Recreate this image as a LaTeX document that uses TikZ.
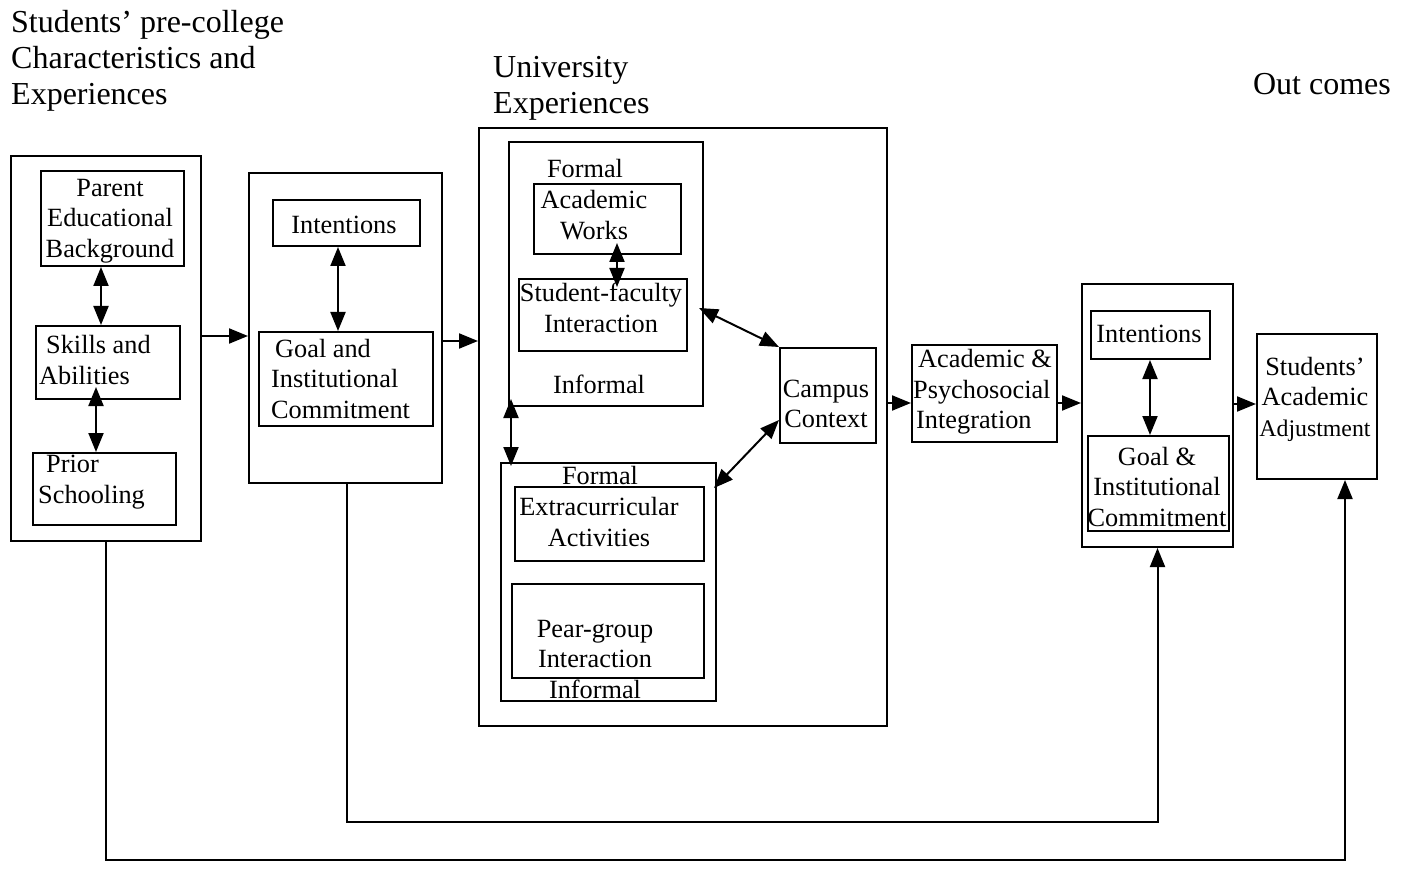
\documentclass[tikz,border=0pt]{standalone}
\usepackage{fontspec}
\setmainfont{Liberation Serif}
\usetikzlibrary{arrows.meta}
\begin{document}
\begin{tikzpicture}[x=1pt,y=-1pt,
  box/.style={draw, line width=2pt, inner sep=0pt, anchor=north west},
  txt/.style={inner sep=0pt, font=\fontsize{26.3}{30.5}\selectfont, align=center},
  ttl/.style={inner sep=0pt, font=\fontsize{32}{36}\selectfont, align=left},
  arr/.style={-{Triangle[length=19pt,width=15pt]}, line width=2pt},
  dbl/.style={{Triangle[length=19pt,width=15pt]}-{Triangle[length=19pt,width=15pt]}, line width=2pt}]
\useasboundingbox (0,0) rectangle (1407,882);
% titles
\node[ttl, anchor=west] (t1) at (11,61) {Students’ pre-college\\Characteristics and\\Experiences};
\node[ttl, anchor=west] (t2) at (493,88) {University\\Experiences};
\node[ttl] (t3) at (1322,84) {Out comes};
% boxes
\node[box, minimum width=190pt, minimum height=385pt] (box1) at (10,155) {};
\node[box, minimum width=143pt, minimum height=95pt] (pe) at (40,170) {};
\node[box, minimum width=144pt, minimum height=73pt] (sk) at (35,325) {};
\node[box, minimum width=143pt, minimum height=72pt] (pr) at (32,452) {};
\node[box, minimum width=193pt, minimum height=310pt] (box2) at (248,172) {};
\node[box, minimum width=147pt, minimum height=46pt] (in1) at (272,199) {};
\node[box, minimum width=174pt, minimum height=94pt] (go1) at (258,331) {};
\node[box, minimum width=408pt, minimum height=598pt] (univ) at (478,127) {};
\node[box, minimum width=194pt, minimum height=264pt] (ub) at (508,141) {};
\node[box, minimum width=147pt, minimum height=70pt] (aw) at (533,183) {};
\node[box, minimum width=168pt, minimum height=72pt] (sf) at (518,278) {};
\node[box, minimum width=215pt, minimum height=238pt] (lb) at (500,462) {};
\node[box, minimum width=189pt, minimum height=74pt] (ex) at (514,486) {};
\node[box, minimum width=192pt, minimum height=94pt] (pg) at (511,583) {};
\node[box, minimum width=96pt, minimum height=95pt] (cc) at (779,347) {};
\node[box, minimum width=145pt, minimum height=97pt] (ap) at (911,344) {};
\node[box, minimum width=151pt, minimum height=263pt] (rb) at (1081,283) {};
\node[box, minimum width=119pt, minimum height=48pt] (in2) at (1090,310) {};
\node[box, minimum width=141pt, minimum height=95pt] (go2) at (1087,435) {};
\node[box, minimum width=120pt, minimum height=145pt] (sa) at (1256,333) {};
% texts
\node[txt] (l1) at (110,221) {Parent\\Educational\\Background};
\node[txt, anchor=west, align=left] (l2) at (39,360) {\hspace{7pt}Skills and\\Abilities};
\node[txt, anchor=west, align=left] (l3) at (38,482) {\hspace{8pt}Prior\\Schooling};
\node[txt] (l4) at (344,225) {Intentions};
\node[txt, anchor=west, align=left] (l5) at (271,379) {\hspace{4pt}Goal and\\Institutional\\Commitment};
\node[txt] (l6) at (585,169) {Formal};
\node[txt] (l7) at (594,215) {Academic\\Works};
\node[txt] (l8) at (601,308) {Student-faculty\\Interaction};
\node[txt] (l9) at (599,384) {Informal};
\node[txt] (l10) at (600,476) {Formal};
\node[txt] (l11) at (599,522) {Extracurricular\\Activities};
\node[txt] (l12) at (595,644) {Pear-group\\Interaction};
\node[txt] (l13) at (595,689) {Informal};
\node[txt] (l14) at (826,404) {Campus\\Context};
\node[txt, anchor=west, align=left] (l15) at (913,392) {\hspace{5pt}Academic \&\\Psychosocial\\\hspace{3pt}Integration};
\node[txt] (l16) at (1149,334) {Intentions};
\node[txt] (l17) at (1157,487) {Goal \&\\Institutional\\Commitment};
\node[txt] (l18) at (1315,399) {Students’\\Academic\\{\fontsize{23.8}{28}\selectfont Adjustment}};
% helper coordinates
\coordinate (h1) at (0,336);
\coordinate (h2) at (0,341);
\coordinate (h3) at (0,403);
\coordinate (h4) at (0,404);
\coordinate (v1) at (101,0);
\coordinate (v2) at (96,0);
\coordinate (v3) at (338,0);
\coordinate (v4) at (617,0);
\coordinate (v5) at (511,0);
\coordinate (v6) at (1150,0);
\coordinate (c1) at (0,308);
\coordinate (c2) at (0,420);
\coordinate (c3) at (0,488);
\coordinate (f1) at (347,822);
\coordinate (f2) at (1345,860);
% horizontal arrows
\draw[arr] (box1.east |- h1) -- (box2.west |- h1);
\draw[arr] (box2.east |- h2) -- (univ.west |- h2);
\draw[arr] (univ.east |- h3) -- (ap.west |- h3);
\draw[arr] (ap.east |- h3) -- (rb.west |- h3);
\draw[arr] (rb.east |- h4) -- (sa.west |- h4);
% double arrows
\draw[dbl] (pe.south -| v1) -- (sk.north -| v1);
\draw[dbl] ([yshift=13pt]sk.south -| v2) -- (pr.north -| v2);
\draw[dbl] (in1.south -| v3) -- (go1.north -| v3);
\draw[dbl] ([yshift=12pt]aw.south -| v4) -- ([yshift=-9pt]sf.north -| v4);
\draw[dbl] ([yshift=8pt]ub.south -| v5) -- ([yshift=-4pt]lb.north -| v5);
\draw[dbl] (in2.south -| v6) -- (go2.north -| v6);
\draw[dbl] (cc.north west) -- ([xshift=-5pt]ub.east |- c1);
\draw[dbl] (cc.west |- c2) -- ([xshift=-3pt]lb.east |- c3);
% feedback lines
\draw[arr] (box2.south -| f1) -- (f1) -- (f1 -| rb.south) -- (rb.south);
\draw[arr] (box1.south) |- (f2) -- (f2 |- sa.south);
\end{tikzpicture}
\end{document}
